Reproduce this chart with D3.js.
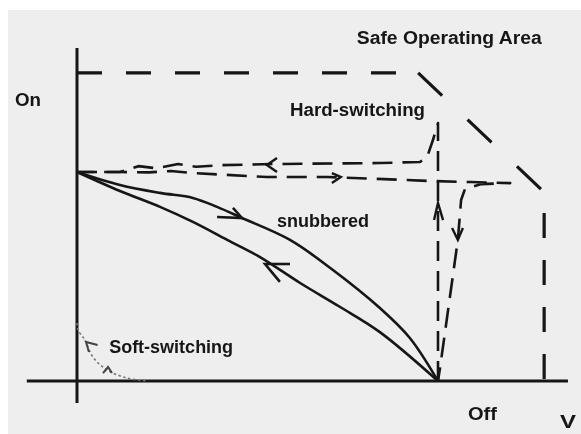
<!DOCTYPE html>
<html><head><meta charset="utf-8">
<script src="https://cdn.jsdelivr.net/npm/d3@7"></script>
<style>html,body{margin:0;padding:0;background:#fff;}svg{display:block;}</style>
</head><body>
<svg id="c" width="581" height="434"></svg>
<script>
// Data units: V in % of DC-link voltage, I in % of load current
const axisX = [[-13.9, 0], [136.0, 0]];
const axisY = [[0, -10.5], [0, 159.3]];
const soaTop = [[0, 147.4], [93.1, 147.4]];
const soaDiag = [[94.5, 147.4], [129.4, 90.4]];
const soaRight = [[129.4, 90.4], [129.4, 0]];
const snubOff = [[0,100],[11.9,93.8],[23.0,90.0],[32.1,87.6],[38.8,83.3],[45.7,78.0],[59.0,67.5],[70.9,53.1],[83.9,34.9],[92.2,20.6],[100,0]];
const snubOn = [[0,100],[11.9,90.9],[23.0,83.3],[32.1,76.1],[41.6,67.5],[50.7,59.3],[61.8,46.9],[72.9,35.4],[83.9,23.4],[100,0]];
const hardOn = [[100,0],[100,123.4],[98.6,115.3],[96.9,106.7],[95.0,104.8],[83.9,104.3],[54.3,103.8],[40,103.3],[33,102.5],[28,103.8],[22,101.8],[17,102.8],[11.9,100],[0,100]];
const hardOff = [[0,100],[11.9,100],[20,99.8],[26,100.5],[32.1,99.5],[52.6,97.6],[69.3,97.6],[83.1,96.7],[97.8,95.7],[108.9,95.2],[120.0,94.7],[112,94.2],[107.5,92.0],[106.4,86.6],[105.5,67.5],[102.8,34],[100.6,6.7],[100,0]];
const softSw = [[0,27.8],[0.3,24.4],[2.2,19.6],[4.4,11.5],[8.3,5.3],[13.9,1.4],[19.7,0]];
const arrowsSolid = [
  [[38.8,78.5],[45.7,78.0],[43.2,82.8]],
  [[59.0,56.0],[52.1,56.0],[56.2,47.4]]
];
const arrowsHard = [
  [[98.9,77.0],[100,85.2],[101.4,77.0]],
  [[55.4,106.7],[52.6,103.3],[55.4,100]],
  [[70.6,99.5],[73.1,97.6],[70.6,94.7]],
  [[103.9,73.2],[105.5,67.5],[106.9,73.2]]
];
const arrowsSoft = [
  [[5.7,17.2],[2.5,18.7],[3.3,13.9]],
  [[7.2,3.8],[8.6,6.7],[9.7,3.8]]
];
const labels = [
  {t:"Safe Operating Area", v:77.5, i:161.2, w:185},
  {t:"On", v:-17.2, i:131.6, w:26},
  {t:"Hard-switching", v:59.0, i:126.8, w:135},
  {t:"snubbered", v:55.4, i:73.7, w:92},
  {t:"Soft-switching", v:8.9, i:13.4, w:124},
  {t:"Off", v:108.3, i:-18.7, w:29},
  {t:"V", v:133.8, i:-22.5, w:16}
];

const svg = d3.select("#c");
const x = d3.scaleLinear().domain([0, 100]).range([77, 438]);
const y = d3.scaleLinear().domain([0, 100]).range([381, 172]);

const defs = svg.append("defs");
defs.append("filter").attr("id","soft").append("feGaussianBlur").attr("stdDeviation",0.55);

svg.append("rect").attr("x",8).attr("y",10).attr("width",573).attr("height",424).attr("fill","#eeeeee");
const g = svg.append("g").attr("filter","url(#soft)");

const line = d3.line().x(d=>x(d[0])).y(d=>y(d[1]));
const curve = d3.line().x(d=>x(d[0])).y(d=>y(d[1])).curve(d3.curveCatmullRom.alpha(0.5));

// axes
[axisX, axisY].forEach(a=>g.append("path").attr("d",line(a)).attr("stroke","#151515").attr("stroke-width",3).attr("fill","none"));

// SOA
g.append("path").attr("d",line(soaTop)).attr("stroke","#151515").attr("stroke-width",3.2).attr("fill","none").attr("stroke-dasharray","25,24");
g.append("path").attr("d",line(soaDiag)).attr("stroke","#151515").attr("stroke-width",3.2).attr("fill","none").attr("stroke-dasharray","33,35");
g.append("path").attr("d",line(soaRight)).attr("stroke","#151515").attr("stroke-width",3.2).attr("fill","none").attr("stroke-dasharray","25,22").attr("stroke-dashoffset",26);

// snubbered
[snubOff, snubOn].forEach(s=>g.append("path").attr("d",curve(s)).attr("stroke","#151515").attr("stroke-width",2.6).attr("fill","none"));
arrowsSolid.forEach(a=>g.append("path").attr("d",line(a)).attr("stroke","#151515").attr("stroke-width",2.6).attr("fill","none"));

// hard switching
[hardOn, hardOff].forEach(s=>g.append("path").attr("d",line(s)).attr("stroke","#151515").attr("stroke-width",2.6).attr("fill","none").attr("stroke-dasharray","20,10").attr("stroke-linejoin","round"));
arrowsHard.forEach(a=>g.append("path").attr("d",line(a)).attr("stroke","#151515").attr("stroke-width",2.4).attr("fill","none"));

// soft switching
g.append("path").attr("d",curve(softSw)).attr("stroke","#777").attr("stroke-width",1.6).attr("fill","none").attr("stroke-dasharray","2.5,2.5");
arrowsSoft.forEach(a=>g.append("path").attr("d",line(a)).attr("stroke","#444").attr("stroke-width",2).attr("fill","none"));

// labels
g.selectAll("text.l").data(labels).enter().append("text")
  .attr("x",d=>x(d.v)).attr("y",d=>y(d.i))
  .attr("textLength",d=>d.w).attr("lengthAdjust","spacingAndGlyphs")
  .attr("font-family","'Liberation Sans', Arial, sans-serif").attr("font-weight","bold")
  .attr("font-size",18).attr("fill","#151515").text(d=>d.t);
</script>
</body></html>
